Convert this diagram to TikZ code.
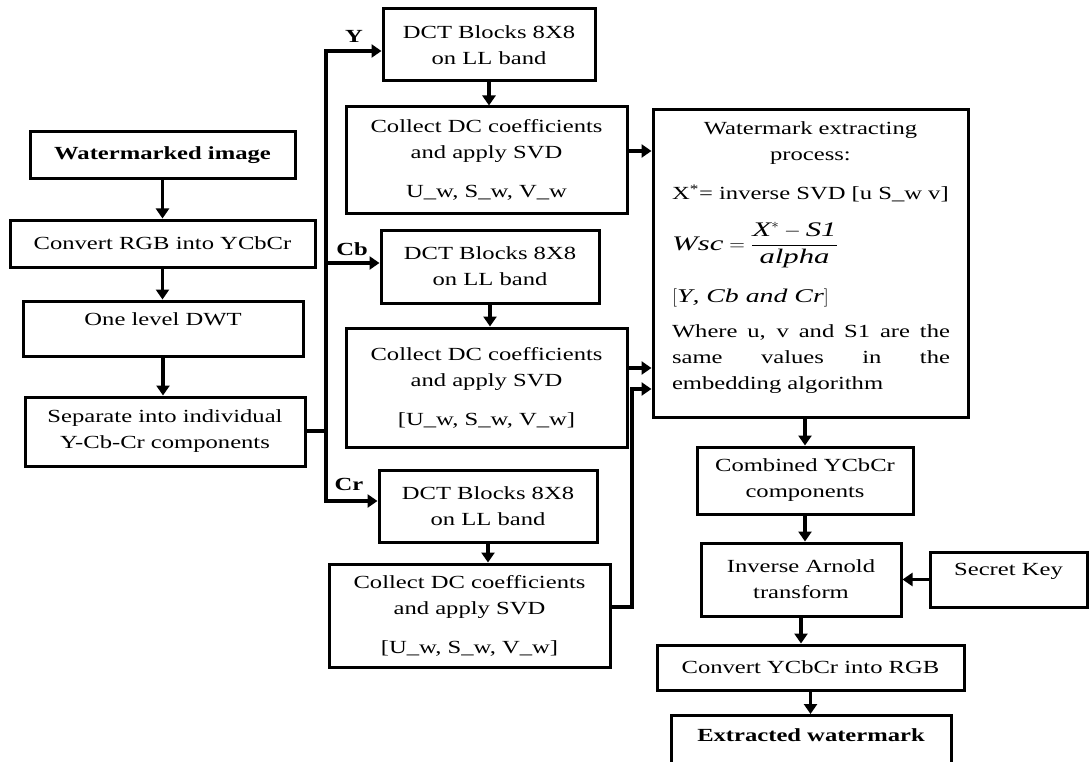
\documentclass[tikz,border=0pt]{standalone}
\usepackage{fontspec}
\setmainfont{Liberation Serif}[FakeStretch=1.33]
\usepackage{amsmath}
\usepackage{graphicx}
\usetikzlibrary{arrows.meta}
\newcommand\diagfont{\fontsize{18.5}{26}\selectfont}
\setlength{\parindent}{0pt}
\tikzset{
  box/.style={draw, line width=3pt, inner sep=0pt, align=center, font=\diagfont},
  txt/.style={inner sep=0pt, font=\diagfont},
  conn/.style={line width=3.8pt},
  arr/.style={line width=3.8pt, -{Triangle[length=10pt,width=13pt]}},
  lbl/.style={inner sep=0pt, font=\diagfont\bfseries}
}
\begin{document}
\begin{tikzpicture}[x=1pt,y=-1pt]
\useasboundingbox (0,0) rectangle (1089,762);
\clip (0,0) rectangle (1089,762);
\fill[white] (0,0) rectangle (1089,762);

% left column
\node[box,minimum width=265pt,minimum height=47pt] (wm) at (162.5,155.5) {\textbf{Watermarked image}};
\node[box,minimum width=305pt,minimum height=47pt] (rgb) at (162.5,243.5) {Convert RGB into YCbCr};
\node[box,minimum width=280pt,minimum height=55pt] (dwt) at (163,328.5) {\raisebox{6pt}[10pt][4pt]{One level DWT}};
\node[box,minimum width=280pt,minimum height=69pt] (sep) at (165,431.5) {Separate into individual\\Y-Cb-Cr components};

% middle column
\node[box,minimum width=212pt,minimum height=72pt] (dcty) at (489,45) {DCT Blocks 8X8\\on LL band};
\node[box,minimum width=281pt,minimum height=106pt] (coly) at (486.5,160) {Collect DC coefficients\\and apply SVD\\[13pt]U\_w, S\_w, V\_w};
\node[box,minimum width=218pt,minimum height=73pt] (dctcb) at (490,266.5) {DCT Blocks 8X8\\on LL band};
\node[box,minimum width=281pt,minimum height=119pt] (colcb) at (486.5,387.5) {Collect DC coefficients\\and apply SVD\\[13pt][U\_w, S\_w, V\_w]};
\node[box,minimum width=218pt,minimum height=72pt] (dctcr) at (488,506) {DCT Blocks 8X8\\on LL band};
\node[box,minimum width=281pt,minimum height=103pt] (colcr) at (469.5,615.5) {Collect DC coefficients\\and apply SVD\\[13pt][U\_w, S\_w, V\_w]};

\node[lbl] (ly) at (354,36) {Y};
\node[lbl] (lcb) at (352,249) {Cb};
\node[lbl] (lcr) at (349,484) {Cr};

% right column
\node[box,minimum width=315pt,minimum height=307pt] (ext) at (810.5,263.5) {};
\node[txt,align=center] (extT) at (810.5,143) {Watermark extracting\\process:};
\node[txt,anchor=base west] (extX) at (672,200) {X\textsuperscript{*}= inverse SVD [u S\_w v]};
\node[txt,anchor=west] (extW) at (672,245) {\scalebox{1.25}[1.12]{$\textit{Wsc} = \dfrac{\textit{X}^{*} - \textit{S1}}{\textit{alpha}}$}};
\node[txt,anchor=base west] (extY) at (672,302) {\scalebox{1.13}[1.05]{$[\textit{Y}\textit{, Cb and Cr}]$}};
\node[txt,text width=278pt,align=justify] (extP) at (811,359) {Where u, v and S1 are the\linebreak same values in the\linebreak embedding algorithm};

\node[box,minimum width=216pt,minimum height=67pt] (comb) at (805,480.5) {Combined YCbCr\\components};
\node[box,minimum width=200pt,minimum height=73pt] (inv) at (801,579.5) {Inverse Arnold\\transform};
\node[box,minimum width=157pt,minimum height=55pt] (key) at (1008.5,579.5) {\raisebox{7pt}[10pt][4pt]{Secret Key}};
\node[box,minimum width=307pt,minimum height=45pt] (ycc) at (810.5,667.5) {Convert YCbCr into RGB};
\node[box,minimum width=280pt,minimum height=80pt,anchor=north] (exw) at (811,714) {};
\node[txt] (exwT) at (811,735) {\textbf{Extracted watermark}};

% left column arrows
\draw[arr] (wm.south) -- (wm.south |- rgb.north);
\draw[arr] (rgb.south) -- (rgb.south |- dwt.north);
\draw[arr] (dwt.south) -- (dwt.south |- sep.north);

% bus
\coordinate (bj) at (326,431);
\coordinate (bt) at (326,51);
\coordinate (bm) at (326,263);
\coordinate (bb) at (326,501);
\draw[conn] (sep.east |- bj) -- (bj);
\draw[arr] (bj) |- (dcty.west |- bt);
\draw[arr] (bj) |- (dctcr.west |- bb);
\draw[arr] (bm) -- (dctcb.west |- bm);

% middle arrows
\draw[arr] (dcty.south) -- (dcty.south |- coly.north);
\draw[arr] (dctcb.south) -- (dctcb.south |- colcb.north);
\draw[arr] (dctcr.south) -- (dctcr.south |- colcr.north);

\coordinate (a1) at (640,151);
\coordinate (a2) at (640,368);
\coordinate (a3) at (632,389);
\coordinate (a4) at (632,607);
\draw[arr] (coly.east |- a1) -- (ext.west |- a1);
\draw[arr] (colcb.east |- a2) -- (ext.west |- a2);
\draw[arr] (colcr.east |- a4) -- (a4) -- (a3) -- (ext.west |- a3);

% right arrows
\draw[arr] (ext.south -| comb.south) -- (comb.north);
\draw[arr] (comb.south) -- (comb.south |- inv.north);
\draw[arr] (inv.south) -- (inv.south |- ycc.north);
\draw[arr] (ycc.south) -- (ycc.south |- exw.north);
\draw[arr] (key.west) -- (inv.east);
\end{tikzpicture}
\end{document}
